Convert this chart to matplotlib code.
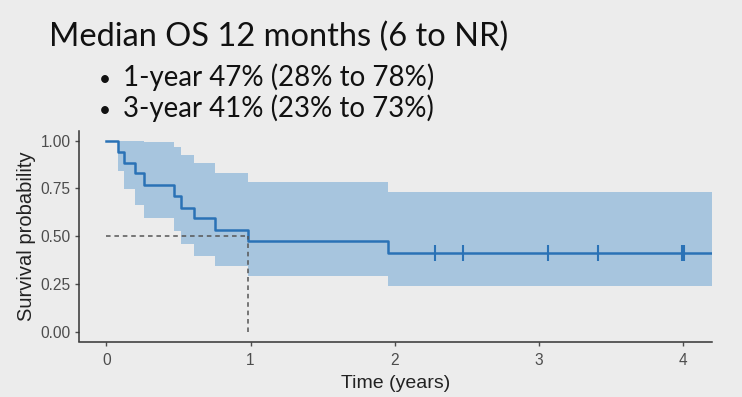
import numpy as np
import matplotlib.pyplot as plt

plt.rcParams['font.family'] = ['Liberation Sans', 'DejaVu Sans']

# KM estimate (time in years)
event_times = [0.08, 0.12, 0.20, 0.26, 0.467, 0.516, 0.61, 0.755, 0.984, 1.955]
survival = [1.00, 0.94, 0.885, 0.83, 0.77, 0.71, 0.65, 0.595, 0.535, 0.475, 0.415]
ci_upper = [1.00, 1.00, 1.00, 1.00, 0.993, 0.969, 0.925, 0.882, 0.833, 0.786, 0.73]
ci_lower = [1.00, 0.843, 0.746, 0.664, 0.595, 0.525, 0.461, 0.395, 0.342, 0.294, 0.238]
censor_times = [2.28, 2.47, 3.06, 3.41, 3.99, 4.005]
end_time = 4.2
median_time = 0.984

title = "Median OS 12 months (6 to NR)"
bullets = ["1-year 47% (28% to 78%)", "3-year 41% (23% to 73%)"]
xticks = [0, 1, 2, 3, 4]
yticks = [0.00, 0.25, 0.50, 0.75, 1.00]

bg = '#ececec'
line_col = '#2a72b6'
band_col = '#a7c5de'

fig = plt.figure(figsize=(7.42, 3.97), dpi=100, facecolor=bg)
ax = fig.add_axes([79/742, 1 - 341.5/397, (712-79)/742, (341.5-131)/397])
ax.set_facecolor(bg)

# step arrays
t = np.array([0] + event_times + [end_time])
s = np.array(survival + [survival[-1]])
lo = np.array(ci_lower + [ci_lower[-1]])
up = np.array(ci_upper + [ci_upper[-1]])

ax.fill_between(t, lo, up, step='post', color=band_col, lw=0)
ax.step(t, s, where='post', color=line_col, lw=1.8)

# censor marks
cs = [survival[-1]] * len(censor_times)
ax.plot(censor_times, cs, ls='none', marker='|', ms=12, mew=1.5, color=line_col)

# median lines
ax.plot([0, median_time], [0.5, 0.5], ls=(0, (3, 2.5)), color='#555555', lw=1.1)
ax.plot([median_time, median_time], [0, 0.5], ls=(0, (3, 2.5)), color='#555555', lw=1.1)

ax.set_xlim(-0.19, end_time)
ax.set_ylim(-0.05, 1.05)
ax.set_xticks(xticks)
ax.set_yticks(yticks)
ax.set_yticklabels(['%.2f' % v for v in yticks])
for sp in ['top', 'right']:
    ax.spines[sp].set_visible(False)
for sp in ['left', 'bottom']:
    ax.spines[sp].set_color('#333333')
    ax.spines[sp].set_linewidth(1.1)
ax.tick_params(colors='#4d4d4d', labelsize=11.2, length=3, width=1)
ax.tick_params(axis='x', pad=5.5)
ax.tick_params(axis='y', pad=3)
ax.set_xlabel('Time (years)', fontsize=14, color='#222222', labelpad=5)
ax.set_ylabel('Survival probability', fontsize=14.5, color='#222222', labelpad=3)

# slide text
fig.text(49/742, 1 - 46/397, title, family='Lato', fontsize=23.5, color='#111111', va='baseline')
fig.text(99/742, 1 - 85.7/397, u'\u2022', family='Lato', fontsize=15, color='#111111', va='baseline')
fig.text(123/742, 1 - 85.7/397, bullets[0], family='Lato', fontsize=19.9, color='#111111', va='baseline')
fig.text(99/742, 1 - 116.7/397, u'\u2022', family='Lato', fontsize=15, color='#111111', va='baseline')
fig.text(123/742, 1 - 116.7/397, bullets[1], family='Lato', fontsize=19.9, color='#111111', va='baseline')

fig.savefig('out.png', dpi=100, facecolor=bg)
